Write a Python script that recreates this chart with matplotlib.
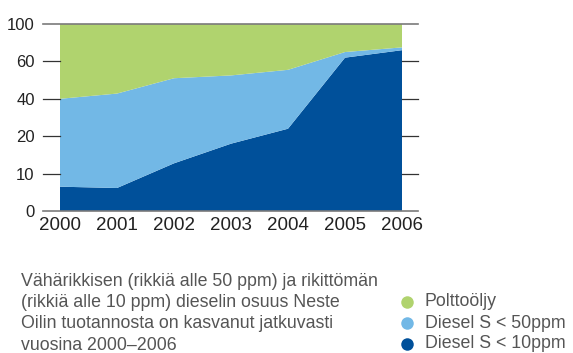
import matplotlib
matplotlib.use("Agg")
import matplotlib.pyplot as plt
from matplotlib.lines import Line2D

plt.rcParams['font.family'] = ['Liberation Sans', 'DejaVu Sans']

years = [2000, 2001, 2002, 2003, 2004, 2005, 2006]
diesel_10 = [13, 12.3, 25.5, 36, 44, 82, 86]
diesel_50 = [47, 50.5, 45.5, 36.5, 31.5, 3, 1.5]
polttooljy = [40, 37.2, 29, 27.5, 24.5, 15, 12.5]

ytick_pos = [0, 20, 40, 60, 80, 100]
ytick_labels = ['0', '10', '20', '40', '60', '100']

labels = ['Polttoöljy', 'Diesel S < 50ppm', 'Diesel S < 10ppm']
colors = ['#b0d36e', '#72b8e6', '#00509a']

caption_lines = ["Vähärikkisen (rikkiä alle 50 ppm) ja rikittömän",
                 "(rikkiä alle 10 ppm) dieselin osuus Neste",
                 "Oilin tuotannosta on kasvanut jatkuvasti",
                 "vuosina 2000–2006"]

W, H = 573, 353
fig = plt.figure(figsize=(W / 100, H / 100), dpi=100)
ax = fig.add_axes([43 / W, (H - 211) / H, (418 - 43) / W, (211 - 24) / H])

ax.stackplot(years, diesel_10, diesel_50, polttooljy,
             colors=[colors[2], colors[1], colors[0]], linewidth=0)

x0 = 2000 - 17 / 57
x1 = 2006 + 16 / 57
ax.set_xlim(x0, x1)
ax.set_ylim(0, 100)

# short tick stubs on both sides of the filled area
for y in ytick_pos[1:-1]:
    ax.plot([x0, 2000], [y, y], color='#333333', lw=0.9, clip_on=False)
    ax.plot([2006, x1], [y, y], color='#333333', lw=0.9, clip_on=False)

for s in ['left', 'right']:
    ax.spines[s].set_visible(False)
for s in ['top', 'bottom']:
    ax.spines[s].set_color('#7a7a7a')
    ax.spines[s].set_linewidth(1.2)

ax.set_yticks(ytick_pos)
ax.set_yticklabels(ytick_labels, fontsize=12, color='#222222')
ax.set_xticks(years)
ax.set_xticklabels([str(y) for y in years], fontsize=13.5, color='#222222')
ax.tick_params(axis='both', length=0)
ax.tick_params(axis='y', pad=6)
ax.tick_params(axis='x', pad=4)

for i, line in enumerate(caption_lines):
    fig.text(21 / W, 1 - (281.7 + i * 21.1) / H, line, fontsize=12.8,
             color='#555555', va='center', ha='left')

for i, (lab, c) in enumerate(zip(labels, colors)):
    yc = 1 - (302 + i * 21) / H
    fig.add_artist(Line2D([406.5 / W], [yc], marker='o', markersize=9,
                          markeredgewidth=0, color=c,
                          transform=fig.transFigure))
    fig.text(425 / W, yc, lab, fontsize=12.8, color='#555555',
             va='center', ha='left')

fig.savefig('out.png', dpi=100)
